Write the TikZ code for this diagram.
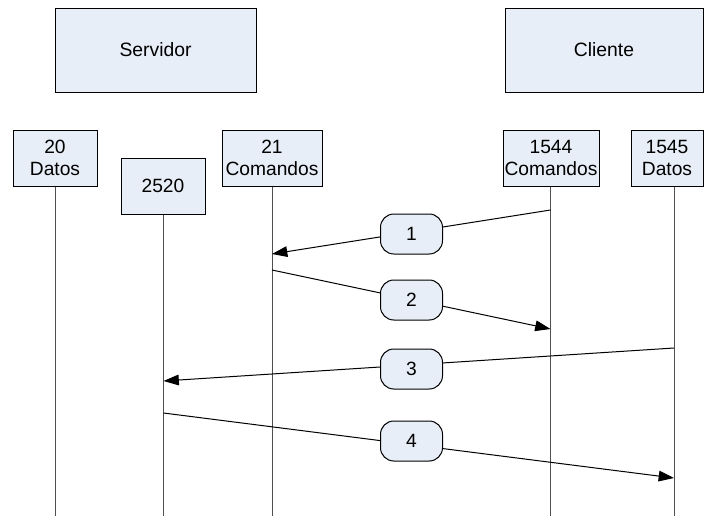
\documentclass[tikz,border=0pt]{standalone}
\usepackage{fontspec}
\setmainfont{Liberation Sans}
\usetikzlibrary{arrows.meta}
\definecolor{boxfill}{RGB}{232,238,247}
\definecolor{lifegray}{RGB}{80,80,80}
\tikzset{
  hostbox/.style={draw=black, line width=0.75pt, fill=boxfill, inner sep=0pt,
    minimum height=63pt, font=\fontsize{14.5pt}{16pt}\selectfont},
  portbox/.style={draw=black, line width=0.75pt, fill=boxfill, inner sep=0pt,
    minimum height=42pt, align=center, font=\fontsize{14.4pt}{16pt}\selectfont},
  msglabel/.style={draw=black, line width=0.75pt, fill=boxfill, inner sep=0pt,
    rounded corners=10pt, minimum width=46.5pt, minimum height=30pt,
    font=\fontsize{14.4pt}{16pt}\selectfont},
  lifeline/.style={draw=lifegray, line width=0.75pt},
  msg/.style={draw=black, line width=0.75pt, -{Triangle[length=11.5pt,width=8pt]}}
}
\begin{document}
\begin{tikzpicture}[x=0.75pt,y=-0.75pt]
\useasboundingbox (0,0) rectangle (704,515);
\clip (0,0) rectangle (704,515);
% host boxes
\node[hostbox, minimum width=150.75pt] (srv) at (155.5,50) {Servidor};
\node[hostbox, minimum width=148.5pt] (cli) at (604,50) {Cliente};
% port boxes
\node[portbox, minimum width=63pt] (p20) at (55,158) {20\\Datos};
\node[portbox, minimum width=63pt] (p2520) at (163,186) {2520};
\node[portbox, minimum width=75pt] (p21) at (272,158) {21\\Comandos};
\node[portbox, minimum width=72pt] (p1544) at (551,158) {1544\\Comandos};
\node[portbox, minimum width=54pt] (p1545) at (667,158) {1545\\Datos};
% lifeline ends
\coordinate (e20) at (55,516);
\coordinate (e2520) at (163.5,516);
\coordinate (e21) at (272,516);
\coordinate (e1544) at (550.5,516);
\coordinate (e1545) at (674,516);
\draw[lifeline] (p20.south) -- (e20);
\draw[lifeline] (e2520 |- p2520.south) -- (e2520);
\draw[lifeline] (p21.south) -- (e21);
\draw[lifeline] (e1544 |- p1544.south) -- (e1544);
\draw[lifeline] (e1545 |- p1545.south) -- (e1545);
% message end points on lifelines
\coordinate (m1a) at (e1544 |- 0,210);
\coordinate (m1b) at (e21 |- 0,254);
\coordinate (m2a) at (e21 |- 0,270);
\coordinate (m2b) at (e1544 |- 0,329);
\coordinate (m3a) at (e1545 |- 0,348);
\coordinate (m3b) at (e2520 |- 0,381);
\coordinate (m4a) at (e2520 |- 0,413);
\coordinate (m4b) at (e1545 |- 0,478);
\draw[msg] (m1a) -- (m1b);
\draw[msg] (m2a) -- (m2b);
\draw[msg] (m3a) -- (m3b);
\draw[msg] (m4a) -- (m4b);
% message labels
\node[msglabel] (l1) at (411.5,234) {1};
\node[msglabel] (l2) at (411.5,300) {2};
\node[msglabel] (l3) at (411.5,369) {3};
\node[msglabel] (l4) at (411.5,441) {4};
\end{tikzpicture}
\end{document}
